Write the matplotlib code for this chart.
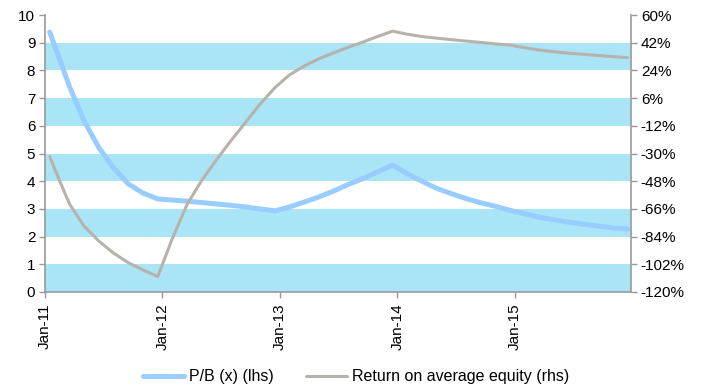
import matplotlib.pyplot as plt

plt.rcParams['font.family'] = ['Liberation Sans', 'DejaVu Sans']

# x position in years after 1 Jan 2011
years = [0.04, 0.12, 0.21, 0.33, 0.46, 0.58, 0.71, 0.83, 0.96,
         1.08, 1.21, 1.33, 1.46, 1.58, 1.71, 1.83, 1.96,
         2.08, 2.21, 2.33, 2.46, 2.58, 2.71, 2.83, 2.96,
         3.08, 3.21, 3.33, 3.46, 3.58, 3.71, 3.83, 3.96,
         4.08, 4.21, 4.33, 4.46, 4.58, 4.71, 4.83, 4.96]

# P/B (x), left axis
pb = [9.38, 8.45, 7.4, 6.2, 5.2, 4.5, 3.9, 3.58, 3.36,
      3.32, 3.28, 3.23, 3.18, 3.13, 3.07, 3.0, 2.93,
      3.07, 3.25, 3.43, 3.65, 3.88, 4.1, 4.33, 4.58,
      4.28, 4.0, 3.75, 3.55, 3.38, 3.22, 3.1, 2.95,
      2.83, 2.7, 2.61, 2.52, 2.45, 2.38, 2.32, 2.27]

# Return on average equity (%), right axis
roe = [-32, -47, -63, -77, -87, -94.5, -101, -105.5, -110,
       -86, -63, -48, -34, -22, -9.5, 2, 13,
       21, 27, 31.5, 35.5, 39, 42.5, 46, 49.5,
       47.6, 46, 45, 44, 43.1, 42.2, 41.3, 40.5,
       38.8, 37.2, 36.2, 35.2, 34.5, 33.7, 33, 32.3]

xtick_pos = [0, 1, 2, 3, 4]
xtick_labels = ['Jan-11', 'Jan-12', 'Jan-13', 'Jan-14', 'Jan-15']
left_ticks = list(range(0, 11))
right_ticks = list(range(-120, 61, 18))

band_color = '#A9E4F7'
axis_color = '#999999'

fig = plt.figure(figsize=(7.08, 3.91), dpi=100)
ax1 = fig.add_axes([0.0636, 0.2532, 0.8277, 0.7084])
ax2 = ax1.twinx()

# alternating shaded bands
for lo in range(0, 10, 2):
    ax1.axhspan(lo, lo + 1, color=band_color, lw=0, zorder=0)

l1, = ax1.plot(years, pb, color='#99CCFF', lw=3.6, solid_capstyle='round',
               solid_joinstyle='round', zorder=3)
l2, = ax2.plot(years, roe, color='#B8B2AC', lw=2.2, solid_capstyle='round',
               solid_joinstyle='round', zorder=3)

ax1.set_xlim(0, 4.99)
ax1.set_ylim(0, 10)
ax2.set_ylim(-120, 60)
ax1.set_yticks(left_ticks)
ax2.set_yticks(right_ticks)
ax2.set_yticklabels([f'{v}%' for v in right_ticks])
ax1.set_xticks(xtick_pos)
ax1.set_xticklabels(xtick_labels, rotation=90)

for ax in (ax1, ax2):
    ax.spines['top'].set_visible(False)
    for s in ('left', 'right', 'bottom'):
        ax.spines[s].set_color(axis_color)
        ax.spines[s].set_linewidth(1.2)
    ax.tick_params(color=axis_color, length=4, width=1, labelsize=11,
                   labelcolor='black', direction='out')
ax1.spines['right'].set_visible(False)
ax2.spines['left'].set_visible(False)
ax2.spines['bottom'].set_visible(False)
ax1.tick_params(axis='y', pad=3)
ax2.tick_params(axis='y', pad=3)
ax1.tick_params(axis='x', pad=4)
ax2.patch.set_visible(False)

fig.legend([l1, l2], ['P/B (x) (lhs)', 'Return on average equity (rhs)'],
           loc='center', bbox_to_anchor=(0.503, 0.036), ncol=2, frameon=False,
           fontsize=11.5, handlelength=2.6, columnspacing=2.0, handletextpad=0.3)

fig.savefig('out.png', dpi=100)
